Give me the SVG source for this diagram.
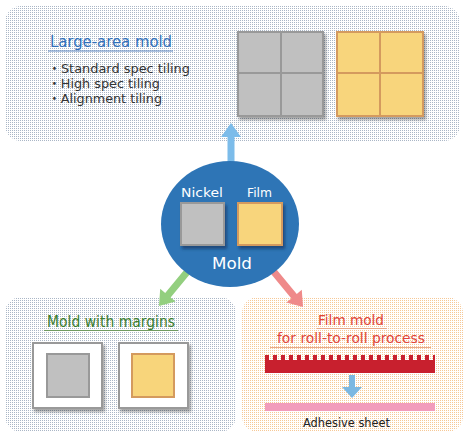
<svg xmlns="http://www.w3.org/2000/svg" width="466" height="439" viewBox="0 0 466 439">
  <defs>
    <pattern id="dotsBlue" patternUnits="userSpaceOnUse" width="2" height="2">
      <rect x="0" y="0" width="1" height="1" fill="#aab6c6"/>
    </pattern>
    <pattern id="dotsOrange" patternUnits="userSpaceOnUse" width="2" height="2">
      <rect x="0" y="0" width="1" height="1" fill="#f6c896"/>
    </pattern>
    <pattern id="teeth" patternUnits="userSpaceOnUse" x="265" y="0" width="8" height="8">
      <rect x="0" y="0" width="4" height="8" fill="#c8202e"/>
    </pattern>
    <filter id="shadow" x="-20%" y="-20%" width="150%" height="150%">
      <feDropShadow dx="2" dy="3" stdDeviation="1.5" flood-color="#000" flood-opacity="0.35"/>
    </filter>
    <filter id="shadowDark" x="-20%" y="-20%" width="150%" height="150%">
      <feDropShadow dx="2" dy="3" stdDeviation="1.5" flood-color="#0a2a55" flood-opacity="0.6"/>
    </filter>
  </defs>
  <style>
    text { font-family: "DejaVu Sans", "Noto Sans CJK JP", sans-serif; }
    .gray { fill: #c0c0c0; stroke: #999999; stroke-width: 2; }
    .yellow { fill: #f8d57b; stroke: #d49a5e; stroke-width: 2; }
    .grayline { stroke: #999999; stroke-width: 2; }
    .yellowline { stroke: #d49a5e; stroke-width: 2; }
    .whitebox { fill: #ffffff; stroke: #999999; stroke-width: 2; }
    .white { fill: #ffffff; }
    .bullet { font-size: 13px; fill: #333333; }
  </style>

  <!-- Top panel: Large-area mold -->
  <g id="large-area-mold">
    <rect x="5" y="6" width="455" height="135" rx="16" fill="url(#dotsBlue)"/>
    <text x="50" y="47" font-size="16" fill="#2f6fba" textLength="122" lengthAdjust="spacingAndGlyphs">Large-area mold</text>
    <line x1="48" y1="51" x2="173" y2="51" stroke="#5b86c2" stroke-width="1"/>
    <text class="bullet" x="48" y="73" textLength="142" lengthAdjust="spacingAndGlyphs">・Standard spec tiling</text>
    <text class="bullet" x="48" y="88" textLength="112" lengthAdjust="spacingAndGlyphs">・High spec tiling</text>
    <text class="bullet" x="48" y="103" textLength="114" lengthAdjust="spacingAndGlyphs">・Alignment tiling</text>
    <g filter="url(#shadow)">
      <rect class="gray" x="238" y="32" width="85" height="84"/>
    </g>
    <line class="grayline" x1="281" y1="32" x2="281" y2="116"/>
    <line class="grayline" x1="238" y1="73" x2="323" y2="73"/>
    <g filter="url(#shadow)">
      <rect class="yellow" x="337" y="32" width="86" height="84"/>
    </g>
    <line class="yellowline" x1="380" y1="32" x2="380" y2="116"/>
    <line class="yellowline" x1="337" y1="73" x2="423" y2="73"/>
  </g>

  <!-- Bottom-left panel: Mold with margins -->
  <g id="mold-with-margins">
    <rect x="5" y="297" width="231" height="135" rx="16" fill="url(#dotsBlue)"/>
    <text x="47" y="327" font-size="15" fill="#3a7d2c" textLength="128" lengthAdjust="spacingAndGlyphs">Mold with margins</text>
    <line x1="44" y1="330.5" x2="178" y2="330.5" stroke="#6f9a60" stroke-width="1"/>
    <rect class="whitebox" x="33" y="343" width="69" height="65" filter="url(#shadow)"/>
    <rect class="gray" x="47" y="354" width="42" height="43"/>
    <rect class="whitebox" x="119" y="343" width="69" height="65" filter="url(#shadow)"/>
    <rect class="yellow" x="132" y="354" width="42" height="43"/>
  </g>

  <!-- Bottom-right panel: Film mold for roll-to-roll process -->
  <g id="film-mold">
    <rect x="242" y="297" width="221" height="135" rx="16" fill="url(#dotsOrange)"/>
    <text x="318" y="325" font-size="14" fill="#e0443a" textLength="66" lengthAdjust="spacingAndGlyphs">Film mold</text>
    <line x1="317" y1="328.5" x2="387" y2="328.5" stroke="#e8a888" stroke-width="1"/>
    <text x="277" y="343" font-size="14" fill="#e0443a" textLength="148" lengthAdjust="spacingAndGlyphs">for roll-to-roll process</text>
    <line x1="270" y1="347.5" x2="431" y2="347.5" stroke="#e8a888" stroke-width="1"/>
    <rect x="265" y="360" width="170" height="13" fill="#c8202e"/>
    <rect x="265" y="355" width="170" height="5.5" fill="url(#teeth)"/>
    <polygon points="349,375 355,375 355,387 362,387 352,398 342,387 349,387" fill="#7cb8e2"/>
    <rect x="265" y="403" width="170" height="8" fill="#f29cbc"/>
    <text x="303" y="427" font-size="11.5" fill="#222222" textLength="87" lengthAdjust="spacingAndGlyphs">Adhesive sheet</text>
  </g>

  <!-- Connectors -->
  <g id="connectors">
    <polygon transform="translate(231,123) rotate(-90)" points="0,0 -14,-10 -14,-3.5 -44,-3.5 -44,3.5 -14,3.5 -14,10" fill="#7cbcea"/>
    <polygon transform="translate(159,306) rotate(129.5)" points="0,0 -14,-10 -14,-3.5 -50,-3.5 -50,3.5 -14,3.5 -14,10" fill="#93cf7f"/>
    <polygon transform="translate(303,307) rotate(50.4)" points="0,0 -14,-10 -14,-3.5 -50,-3.5 -50,3.5 -14,3.5 -14,10" fill="#ef8a8a"/>
  </g>

  <!-- Center: Mold -->
  <g id="mold">
    <ellipse cx="230" cy="224" rx="69" ry="63" fill="#2e75b6"/>
    <text class="white" x="181" y="197" font-size="13" textLength="42" lengthAdjust="spacingAndGlyphs">Nickel</text>
    <text class="white" x="247" y="197" font-size="13" textLength="25" lengthAdjust="spacingAndGlyphs">Film</text>
    <rect class="gray" x="181" y="203" width="43" height="42" filter="url(#shadowDark)"/>
    <rect class="yellow" x="238" y="203" width="44" height="42" filter="url(#shadowDark)"/>
    <text class="white" x="212" y="269" font-size="15.5" textLength="40" lengthAdjust="spacingAndGlyphs">Mold</text>
  </g>
</svg>
